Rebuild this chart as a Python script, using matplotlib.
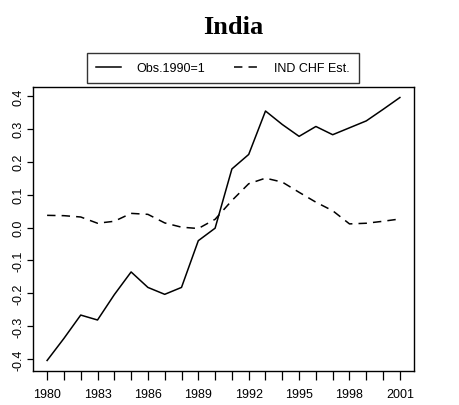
import numpy as np
import matplotlib
matplotlib.use('Agg')
import matplotlib.pyplot as plt

# values (log scale, 1990 = 0)
years = list(range(1980, 2002))
obs = [-0.404, -0.337, -0.266, -0.281, -0.204, -0.135, -0.182, -0.203, -0.182, -0.040, -0.002,
       0.178, 0.222, 0.354, 0.313, 0.277, 0.307, 0.282, 0.303, 0.324, 0.359, 0.395]
chf_est = [0.037, 0.036, 0.032, 0.013, 0.019, 0.043, 0.040, 0.014, 0.001, -0.003, 0.025,
           0.082, 0.133, 0.150, 0.138, 0.107, 0.077, 0.051, 0.011, 0.013, 0.019, 0.026]
xtick_years = [1980, 1983, 1986, 1989, 1992, 1995, 1998, 2001]
ytick_vals = [-0.4, -0.3, -0.2, -0.1, 0.0, 0.1, 0.2, 0.3, 0.4]

plt.rcParams['font.family'] = ['Liberation Sans', 'DejaVu Sans']

fig = plt.figure(figsize=(4.6, 4.06), dpi=100)
ax = fig.add_axes([33 / 460, 1 - 372 / 406, 381 / 460, 284 / 406])

l1, = ax.plot(years, obs, color='black', lw=1.1, label='Obs.1990=1')
l2, = ax.plot(years, chf_est, color='black', lw=1.1, linestyle=(0, (5.5, 4)), label='IND CHF Est.')

# R-style padding of 4% on both axes
xr = years[-1] - years[0]
ax.set_xlim(years[0] - 0.04 * xr, years[-1] + 0.04 * xr)
lo = min(min(obs), min(chf_est))
hi = max(max(obs), max(chf_est))
ax.set_ylim(lo - 0.04 * (hi - lo), hi + 0.04 * (hi - lo))

ax.set_xticks(years)
ax.set_xticklabels([str(y) if y in xtick_years else '' for y in years])
ax.set_yticks(ytick_vals)
ax.set_yticklabels(['%.1f' % v for v in ytick_vals], rotation=90, va='center')
ax.tick_params(axis='both', direction='out', width=0.9, labelsize=9, colors='black')
ax.tick_params(axis='x', length=6.5, pad=6)
ax.tick_params(axis='y', length=4.5, pad=1.5)
for s in ax.spines.values():
    s.set_linewidth(1.0)
    s.set_color('black')

fig.text(233 / 460, 1 - 27 / 406, 'India', ha='center', va='center',
         fontsize=19, fontweight='bold', family='Liberation Serif')

leg = fig.legend(handles=[l1, l2], loc='center', bbox_to_anchor=(223 / 460, 1 - 69 / 406),
                 ncol=2, fontsize=9, frameon=True, fancybox=False, edgecolor='black',
                 handlelength=2.0, handletextpad=1.2, columnspacing=2.3, borderpad=0.75)
leg.get_frame().set_linewidth(1.0)

fig.savefig('out.png', dpi=100)
